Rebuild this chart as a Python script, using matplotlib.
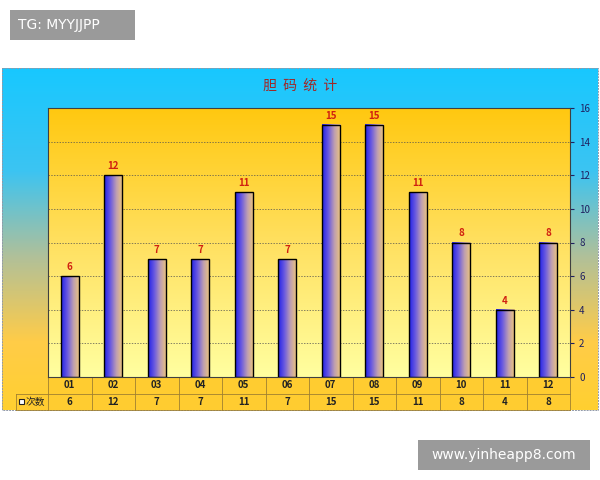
import numpy as np
import matplotlib.pyplot as plt
from matplotlib.colors import LinearSegmentedColormap
from matplotlib.patches import Rectangle

plt.rcParams["font.family"] = ["Noto Sans CJK SC", "DejaVu Sans"]

categories = ["01", "02", "03", "04", "05", "06", "07", "08", "09", "10", "11", "12"]
counts = [6, 12, 7, 7, 11, 7, 15, 15, 11, 8, 4, 8]
series_name = "次数"
title = "胆码统计"

fig = plt.figure(figsize=(6, 4.8), dpi=100)
bg = fig.add_axes([0, 0, 1, 1])
bg.set_xlim(0, 600)
bg.set_ylim(480, 0)
bg.axis("off")

# outer chart area gradient: cyan -> yellow
outer = LinearSegmentedColormap.from_list(
    "outer", [(0, "#18c8ff"), (0.3, "#3cc4f2"), (0.55, "#b0c09a"), (0.8, "#ffcc48"), (1, "#ffd030")])
grad = np.linspace(0, 1, 256).reshape(-1, 1)
bg.imshow(grad, cmap=outer, extent=(2, 598, 410, 68), aspect="auto", zorder=0)
bg.add_patch(Rectangle((2, 68), 596, 342, fill=False, ec="#9098a8", lw=0.7, ls=(0, (2, 1)), zorder=1))

bg.text(300, 86, "  ".join(title), ha="center", va="center", fontsize=10, color="#a02828")

# watermark boxes
bg.add_patch(Rectangle((10, 10), 125, 30, fc="#9a9a9a", ec="none", zorder=1))
bg.text(18, 25, "TG: MYYJJPP", ha="left", va="center", fontsize=10, color="white",
        family="DejaVu Sans")
bg.add_patch(Rectangle((418, 440), 172, 30, fc="#9a9a9a", ec="none", zorder=1))
bg.text(504, 455, "www.yinheapp8.com", ha="center", va="center", fontsize=10, color="white",
        family="DejaVu Sans")

# data table
x0, x1 = 48, 570
n = len(categories)
cw = (x1 - x0) / n
table_col = "#ffcc30"
bg.add_patch(Rectangle((x0, 377), x1 - x0, 33, fc=table_col, ec="none", zorder=1))
bg.add_patch(Rectangle((16, 394), x0 - 16, 16, fc=table_col, ec="none", zorder=1))
for y in (377, 394, 410):
    bg.plot([x0 if y == 377 else 16, x1], [y, y], color="#a08030", lw=0.6, zorder=2)
for i in range(n + 1):
    bg.plot([x0 + i * cw] * 2, [377, 410], color="#a08030", lw=0.6, zorder=2)
bg.plot([16, 16], [394, 410], color="#a08030", lw=0.6, zorder=2)
for i, (c, v) in enumerate(zip(categories, counts)):
    xc = x0 + (i + 0.5) * cw
    bg.text(xc, 385.5, c, ha="center", va="center", fontsize=7, fontweight="bold", color="#222")
    bg.text(xc, 402, str(v), ha="center", va="center", fontsize=7, fontweight="bold", color="#222")
bg.add_patch(Rectangle((19, 399), 5, 5, fc="white", ec="#222", lw=0.8, zorder=3))
bg.text(26, 402, series_name, ha="left", va="center", fontsize=7, color="#222")

# plot area
ax = fig.add_axes([48 / 600, 1 - 377 / 480, 522 / 600, 269 / 480])
ax.set_xlim(-0.5, n - 0.5)
ax.set_ylim(0, 16)
inner = LinearSegmentedColormap.from_list("inner", ["#ffffa0", "#ffe060", "#ffc810"])
ax.imshow(np.linspace(0, 1, 256).reshape(-1, 1), cmap=inner, origin="lower",
          extent=(-0.5, n - 0.5, 0, 16), aspect="auto", zorder=0)
for yv in range(2, 16, 2):
    ax.axhline(yv, color="#505050", lw=0.5, ls=(0, (2, 2)), zorder=1)

barcm = LinearSegmentedColormap.from_list("bar", ["#2020e8", "#6a5ae0", "#c0a0b0", "#f0c878"])
hgrad = np.linspace(0, 1, 128).reshape(1, -1)
bw = 0.42
bars = ax.bar(range(n), counts, width=bw, fc="none", ec="black", lw=1.0, zorder=3)
for i, b in enumerate(bars):
    ax.imshow(hgrad, cmap=barcm, extent=(b.get_x(), b.get_x() + bw, 0, counts[i]),
              aspect="auto", zorder=2)
    ax.text(i, counts[i] + 0.25, str(counts[i]), ha="center", va="bottom", fontsize=7,
            fontweight="bold", color="#d02010")

ax.yaxis.tick_right()
ax.set_yticks(range(0, 17, 2))
ax.tick_params(axis="y", labelsize=7, length=3, colors="#202060")
ax.set_xticks([])
for s in ax.spines.values():
    s.set_color("#404040")
    s.set_linestyle((0, (2, 1)))
    s.set_linewidth(0.8)
ax.spines["right"].set_linestyle("-")
ax.spines["bottom"].set_linestyle("-")

fig.savefig("out.png", dpi=100)
